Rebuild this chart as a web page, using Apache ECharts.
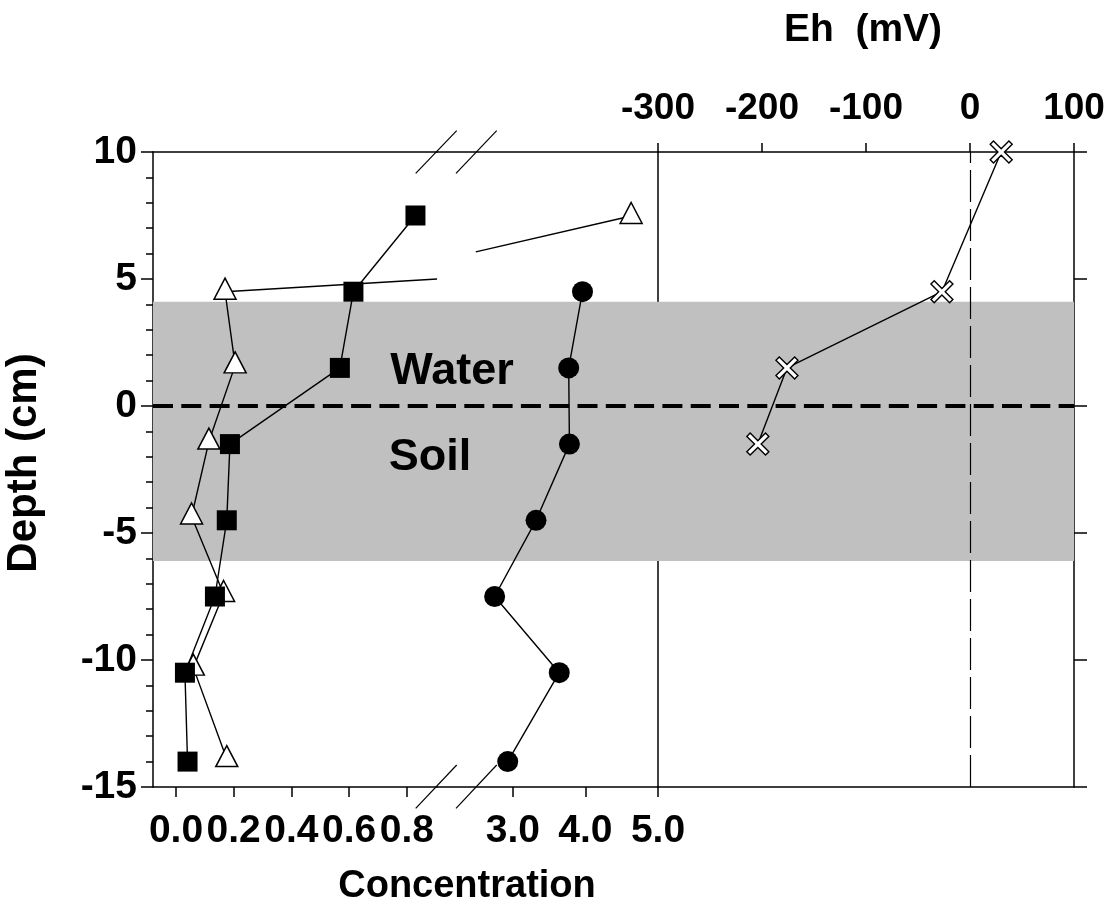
<!DOCTYPE html>
<html>
<head>
<meta charset="utf-8">
<script src="https://cdn.jsdelivr.net/npm/echarts@6/dist/echarts.min.js"></script>
<style>html,body{margin:0;padding:0;background:#fff}#c{width:1108px;height:913px}</style>
</head>
<body>
<div id="c"></div>
<script>
// ---- data ----
const squareDepth = [7.5, 4.5, 1.5, -1.5, -4.5, -7.5, -10.5, -14];
const squareConc  = [0.83, 0.615, 0.568, 0.187, 0.176, 0.135, 0.031, 0.04];

const triDepthLow = [4.5, 1.6, -1.4, -4.35, -7.4, -10.3, -13.9];
const triConcLow  = [0.17, 0.205, 0.114, 0.054, 0.165, 0.06, 0.176];
const triDepthHigh = [7.48];
const triConcHigh  = [4.63];
// broken connecting segment across the axis break (endpoints)
const triBreakLeft  = [[0.17, 4.5], [0.905, 5.0]];
const triBreakRight = [[2.49, 6.07], [triConcHigh[0], triDepthHigh[0]]];

const circleDepth = [4.5, 1.5, -1.5, -4.5, -7.5, -10.5, -14];
const circleConc  = [3.96, 3.77, 3.78, 3.32, 2.75, 3.64, 2.93];

const ehDepth = [10, 4.5, 1.5, -1.5];
const ehValue = [30, -27, -176, -204];

const concTicksLow  = [0, 0.2, 0.4, 0.6, 0.8];
const concTicksHigh = [3, 4, 5];
const depthRange = [-15, 10];
const ehRange = [-300, 100];
const waterBand = [4.1, -6.1];

// ---- chart ----
const FONT = '"Liberation Sans", Arial, sans-serif';
const lbl = {color: '#000', fontFamily: FONT, fontWeight: 'bold', fontSize: 39};
const axLine = {show: true, onZero: false, lineStyle: {color: '#000', width: 1.5}};
const noTick = {show: false};
const noLabel = {show: false};
const noSplit = {show: false};
const zip = (a, b) => a.map((v, i) => [v, b[i]]);

const TOP = 152, H = 635;
const option = {
  animation: false,
  backgroundColor: '#fff',
  grid: [
    {left: 153, top: TOP, width: 284, height: H},
    {left: 437, top: TOP, width: 221, height: H},
    {left: 658, top: TOP, width: 416, height: H},
    {left: 153, top: TOP, width: 921, height: H}
  ],
  xAxis: [
    {gridIndex: 0, type: 'value', position: 'bottom', min: -0.0797, max: 0.9047,
     axisLine: axLine, splitLine: noSplit,
     axisTick: {show: true, length: 10, customValues: concTicksLow, lineStyle: {color: '#000', width: 1.5}},
     axisLabel: Object.assign({show: true, margin: 25, customValues: concTicksLow, formatter: v => v.toFixed(1)}, lbl)},
    {gridIndex: 0, type: 'value', position: 'top', min: -0.0797, max: 0.9047,
     axisLine: axLine, axisTick: noTick, axisLabel: noLabel, splitLine: noSplit},
    {gridIndex: 1, type: 'value', position: 'bottom', min: 1.956, max: 5,
     axisLine: axLine, splitLine: noSplit,
     axisTick: {show: true, length: 10, customValues: concTicksHigh, lineStyle: {color: '#000', width: 1.5}},
     axisLabel: Object.assign({show: true, margin: 25, customValues: concTicksHigh, formatter: v => v.toFixed(1)}, lbl)},
    {gridIndex: 1, type: 'value', position: 'top', min: 1.956, max: 5,
     axisLine: axLine, axisTick: noTick, axisLabel: noLabel, splitLine: noSplit},
    {gridIndex: 2, type: 'value', position: 'top', min: ehRange[0], max: ehRange[1], interval: 100,
     axisLine: axLine, splitLine: noSplit,
     axisTick: {show: true, length: 9, lineStyle: {color: '#000', width: 1.5}},
     axisLabel: Object.assign({show: true, margin: 25}, lbl, {fontSize: 37})},
    {gridIndex: 2, type: 'value', position: 'bottom', min: ehRange[0], max: ehRange[1],
     axisLine: axLine, axisTick: noTick, axisLabel: noLabel, splitLine: noSplit},
    {gridIndex: 3, type: 'value', min: 0, max: 1, show: false}
  ],
  yAxis: [
    {gridIndex: 0, type: 'value', position: 'left', min: depthRange[0], max: depthRange[1], interval: 5,
     axisLine: axLine, splitLine: noSplit,
     axisTick: {show: true, length: 12, lineStyle: {color: '#000', width: 1.5}},
     minorTick: {show: true, splitNumber: 5, length: 7, lineStyle: {color: '#000', width: 1.5}},
     axisLabel: Object.assign({show: true, margin: 16}, lbl)},
    {gridIndex: 1, type: 'value', min: depthRange[0], max: depthRange[1], show: false},
    {gridIndex: 2, type: 'value', position: 'left', min: depthRange[0], max: depthRange[1], interval: 5,
     axisLine: axLine, axisTick: noTick, axisLabel: noLabel, splitLine: noSplit},
    {gridIndex: 2, type: 'value', position: 'right', min: depthRange[0], max: depthRange[1], interval: 5,
     axisLine: axLine, splitLine: noSplit, axisLabel: noLabel,
     axisTick: {show: true, length: 13, lineStyle: {color: '#000', width: 1.5}}},
    {gridIndex: 3, type: 'value', min: depthRange[0], max: depthRange[1], show: false}
  ],
  series: [
    {type: 'line', xAxisIndex: 6, yAxisIndex: 4, data: [], z: -1, silent: true,
     markArea: {silent: true, itemStyle: {color: '#c0c0c0'},
       data: [[{yAxis: waterBand[0]}, {yAxis: waterBand[1]}]]}},
    {type: 'line', xAxisIndex: 6, yAxisIndex: 4, data: [], z: 1, silent: true,
     markLine: {silent: true, symbol: 'none', label: {show: false},
       lineStyle: {color: '#000', width: 4, type: [20, 8.3]},
       data: [{yAxis: 0}]}},
    {type: 'line', xAxisIndex: 2, yAxisIndex: 1, data: triBreakRight.map((p, i) => i === 0 ? {value: p, symbol: 'none'} : {value: p}),
     symbol: 'triangle', symbolSize: [22, 21], symbolOffset: [0, -3], clip: false, z: 3,
     lineStyle: {color: '#000', width: 1.4},
     itemStyle: {color: '#fff', borderColor: '#000', borderWidth: 1.5}},
    {type: 'line', xAxisIndex: 0, yAxisIndex: 0, data: triBreakLeft, showSymbol: false, symbol: 'none', clip: false, z: 3,
     lineStyle: {color: '#000', width: 1.4}},
    {type: 'line', xAxisIndex: 0, yAxisIndex: 0, data: zip(triConcLow, triDepthLow),
     symbol: 'triangle', symbolSize: [22, 21], symbolOffset: [0, -3], clip: false, z: 3,
     lineStyle: {color: '#000', width: 1.4},
     itemStyle: {color: '#fff', borderColor: '#000', borderWidth: 1.5}},
    {type: 'line', xAxisIndex: 0, yAxisIndex: 0, data: zip(squareConc, squareDepth),
     symbol: 'rect', symbolSize: 20, clip: false, z: 4,
     lineStyle: {color: '#000', width: 1.4},
     itemStyle: {color: '#000'}},
    {type: 'line', xAxisIndex: 2, yAxisIndex: 1, data: zip(circleConc, circleDepth),
     symbol: 'circle', symbolSize: 21, clip: false, z: 4,
     lineStyle: {color: '#000', width: 1.4},
     itemStyle: {color: '#000'}},
    {type: 'line', xAxisIndex: 4, yAxisIndex: 2, data: zip(ehValue, ehDepth),
     symbol: 'path://M0,3 L3,0 L10,7 L17,0 L20,3 L13,10 L20,17 L17,20 L10,13 L3,20 L0,17 L7,10 Z',
     symbolSize: 22, clip: false, z: 4,
     lineStyle: {color: '#000', width: 1.4},
     itemStyle: {color: '#fff', borderColor: '#000', borderWidth: 1.4},
     markLine: {silent: true, symbol: 'none', label: {show: false}, z: 1,
       lineStyle: {color: '#000', width: 1.2, type: [32, 7]},
       data: [{xAxis: 0}]}}
  ],
  graphic: [
    {type: 'text', x: 452, y: 372, z: 10, style: {text: 'Water', fill: '#000', font: 'bold 45px ' + FONT, align: 'center', verticalAlign: 'middle'}},
    {type: 'text', x: 430, y: 458, z: 10, style: {text: 'Soil', fill: '#000', font: 'bold 45px ' + FONT, align: 'center', verticalAlign: 'middle'}},
    {type: 'text', x: 24, y: 463, rotation: Math.PI / 2, z: 10, style: {text: 'Depth (cm)', fill: '#000', font: 'bold 42px ' + FONT, align: 'center', verticalAlign: 'middle'}},
    {type: 'text', x: 467, y: 887, z: 10, style: {text: 'Concentration', fill: '#000', font: 'bold 38px ' + FONT, align: 'center', verticalAlign: 'middle'}},
    {type: 'text', x: 863, y: 30, z: 10, style: {text: 'Eh  (mV)', fill: '#000', font: 'bold 39px ' + FONT, align: 'center', verticalAlign: 'middle'}},
    // axis-break marks
    {type: 'line', z: 10, shape: {x1: 415.7, y1: 173.3, x2: 456.7, y2: 130.7}, style: {stroke: '#000', lineWidth: 1.2}},
    {type: 'line', z: 10, shape: {x1: 456, y1: 173.3, x2: 496.7, y2: 130.7}, style: {stroke: '#000', lineWidth: 1.2}},
    {type: 'line', z: 10, shape: {x1: 415.7, y1: 808.3, x2: 456.7, y2: 765}, style: {stroke: '#000', lineWidth: 1.2}},
    {type: 'line', z: 10, shape: {x1: 456, y1: 808.3, x2: 496.7, y2: 765}, style: {stroke: '#000', lineWidth: 1.2}}
  ]
};
const chart = echarts.init(document.getElementById('c'), null, {renderer: 'canvas'});
chart.setOption(option);
</script>
</body>
</html>
